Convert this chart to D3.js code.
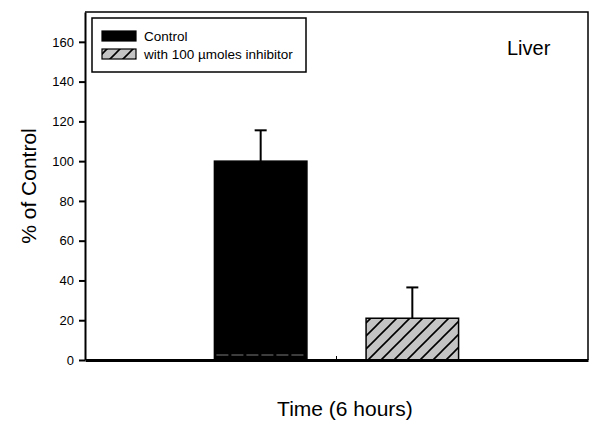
<!DOCTYPE html>
<html>
<head>
<meta charset="utf-8">
<script src="https://cdn.jsdelivr.net/npm/d3@7"></script>
<style>
  html, body { margin: 0; padding: 0; background: #fff; }
  svg { display: block; font-family: "Liberation Sans", Arial, Helvetica, sans-serif; }
</style>
</head>
<body>
<svg id="chart" width="600" height="434"></svg>
<script>
// ---- data ----
const categories = ["6 hours"];
const seriesNames = ["Control", "with 100 \u00B5moles inhibitor"];
const seriesValues = [100, 21];
const seriesErrors = [15.5, 15.5];
const yTicks = [0, 20, 40, 60, 80, 100, 120, 140, 160];
const yMax = 175;
const panelLabel = "Liver";
const yTitle = "% of Control";
const xTitle = "Time (6 hours)";

// ---- layout ----
const W = 600, H = 434;
const m = { left: 85, right: 12, top: 12, bottom: 74 };
const svg = d3.select("#chart");

const defs = svg.append("defs");
const pat = defs.append("pattern")
  .attr("id", "hatch").attr("patternUnits", "userSpaceOnUse")
  .attr("width", 13).attr("height", 13);
pat.append("rect").attr("width", 13).attr("height", 13).attr("fill", "#c4c4c4");
pat.append("path").attr("d", "M-3,16 L16,-3 M-3,3 L3,-3 M10,16 L16,10")
  .attr("stroke", "#000").attr("stroke-width", 1.6);

const x = d3.scaleBand().domain(categories)
  .range([m.left, W - m.right]).paddingInner(0).paddingOuter(0.53);
const xs = d3.scaleBand().domain(seriesNames)
  .range([0, x.bandwidth()]).paddingInner(0.39).paddingOuter(0);
const y = d3.scaleLinear().domain([0, yMax]).range([H - m.bottom, m.top]);

const fills = ["#000", "url(#hatch)"];

const rows = categories.flatMap(c => seriesNames.map((s, i) => ({
  cat: c, s, i, v: seriesValues[i], e: seriesErrors[i]
})));

// bars
const g = svg.append("g");
g.selectAll("rect.bar").data(rows).join("rect")
  .attr("class", "bar")
  .attr("x", d => x(d.cat) + xs(d.s))
  .attr("y", d => y(d.v))
  .attr("width", xs.bandwidth())
  .attr("height", d => y(0) - y(d.v))
  .attr("fill", d => fills[d.i])
  .attr("stroke", "#000").attr("stroke-width", 1.5);

// faint artefact line at base of black bar
g.selectAll("line.art").data(rows.filter(d => d.i === 0)).join("line")
  .attr("x1", d => x(d.cat) + xs(d.s) + 2)
  .attr("x2", d => x(d.cat) + xs(d.s) + xs.bandwidth() - 2)
  .attr("y1", y(0) - 5).attr("y2", y(0) - 5)
  .attr("stroke", "#fff").attr("stroke-width", 0.8)
  .attr("stroke-dasharray", "12,3").attr("opacity", 0.6);

// error bars (upper only)
const cx = d => x(d.cat) + xs(d.s) + xs.bandwidth() / 2;
g.selectAll("line.err").data(rows).join("line")
  .attr("x1", cx).attr("x2", cx)
  .attr("y1", d => y(d.v)).attr("y2", d => y(d.v + d.e))
  .attr("stroke", "#000").attr("stroke-width", 2);
g.selectAll("line.cap").data(rows).join("line")
  .attr("x1", d => cx(d) - 6).attr("x2", d => cx(d) + 6)
  .attr("y1", d => y(d.v + d.e)).attr("y2", d => y(d.v + d.e))
  .attr("stroke", "#000").attr("stroke-width", 2);

// frame: top & right
svg.append("path")
  .attr("d", `M${m.left},${m.top} H${W - m.right} V${H - m.bottom}`)
  .attr("fill", "none").attr("stroke", "#000").attr("stroke-width", 1.5);

// y axis
const yAxis = svg.append("g").attr("transform", `translate(${m.left},0)`)
  .call(d3.axisLeft(y).tickValues(yTicks).tickSize(6).tickPadding(5).tickSizeOuter(0));
yAxis.select(".domain").attr("stroke-width", 2);
yAxis.selectAll(".tick line").attr("stroke-width", 2);
yAxis.selectAll(".tick text").attr("font-size", 13)
  .attr("font-family", "'Liberation Sans', Arial, sans-serif").attr("fill", "#000");

// x axis
const xAxis = svg.append("g").attr("transform", `translate(0,${H - m.bottom})`)
  .call(d3.axisBottom(x).tickSize(-4).tickSizeOuter(0).tickFormat(""));
xAxis.select(".domain").attr("stroke-width", 3);
xAxis.selectAll(".tick line").attr("stroke-width", 1);

// legend
const lg = svg.append("g");
lg.append("rect").attr("x", 92).attr("y", 18).attr("width", 214).attr("height", 54)
  .attr("fill", "#fff").attr("stroke", "#000").attr("stroke-width", 1.5);
seriesNames.forEach((s, i) => {
  const yy = 31 + i * 18;
  lg.append("rect").attr("x", 102).attr("y", yy).attr("width", 34).attr("height", 10)
    .attr("fill", fills[i]).attr("stroke", "#000").attr("stroke-width", 1.2);
  lg.append("text").attr("x", 144).attr("y", yy + 10).attr("font-size", 13.5)
    .attr("fill", "#000").text(s);
});

// panel label
svg.append("text").attr("x", 507).attr("y", 55).attr("font-size", 20)
  .attr("fill", "#000").text(panelLabel);

// axis titles
svg.append("text")
  .attr("transform", `translate(36,${(m.top + H - m.bottom) / 2}) rotate(-90)`)
  .attr("text-anchor", "middle").attr("font-size", 21).attr("fill", "#000")
  .text(yTitle);
svg.append("text").attr("x", 345).attr("y", 416)
  .attr("text-anchor", "middle").attr("font-size", 21).attr("fill", "#000")
  .text(xTitle);
</script>
</body>
</html>
